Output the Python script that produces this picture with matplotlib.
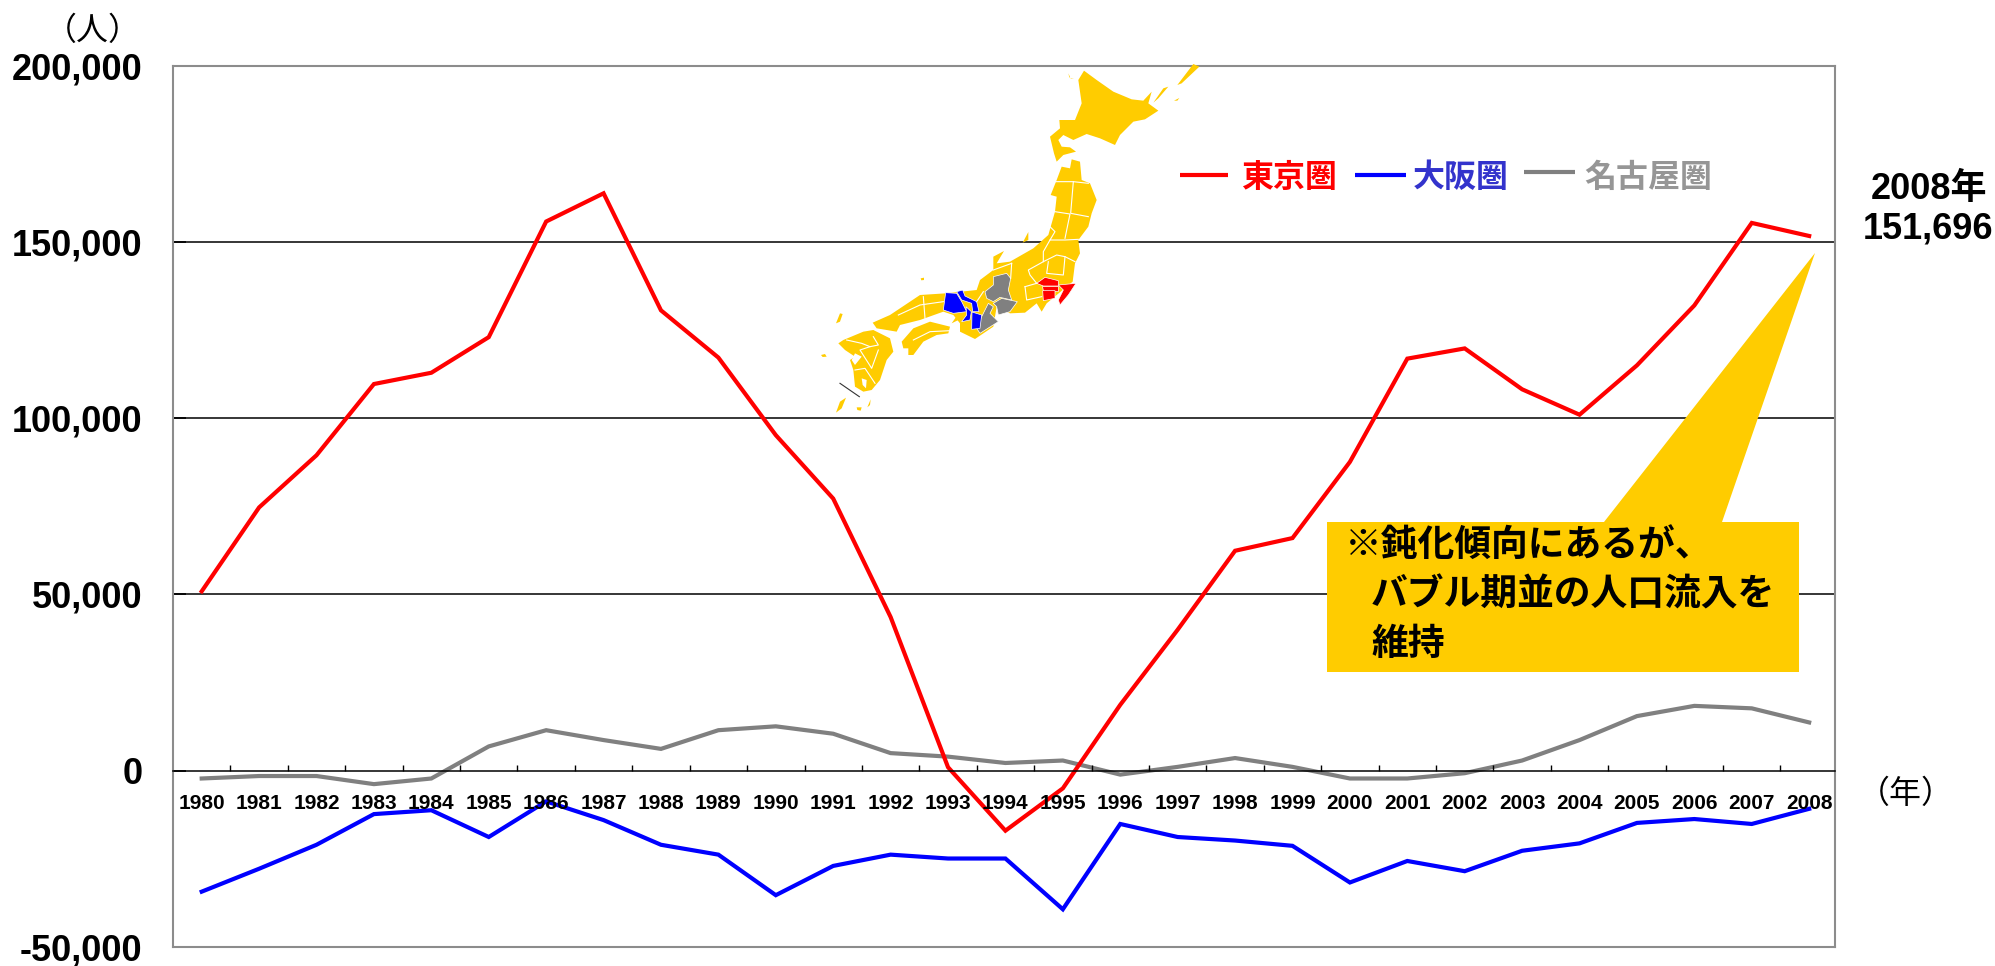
import matplotlib
matplotlib.use('Agg')
import matplotlib.pyplot as plt
from matplotlib.patches import Polygon

plt.rcParams['font.family'] = ['Liberation Sans', 'Noto Sans CJK JP', 'DejaVu Sans']

years = list(range(1980, 2009))
tokyo = [50900, 74700, 89500, 109700, 112900, 123000, 155800, 163800, 130600, 117200,
         95200, 77200, 43600, 1000, -17000, -5000, 18700, 40000, 62400, 66000,
         87600, 116900, 119800, 108200, 101000, 115000, 132000, 155400, 151696]
osaka = [-34300, -27800, -21000, -12300, -11200, -18800, -8700, -14000, -21000, -23800,
         -35300, -27000, -23800, -24900, -24900, -39300, -15100, -18800, -19800, -21300,
         -31700, -25600, -28500, -22700, -20600, -14800, -13700, -15100, -10800]
nagoya = [-2200, -1500, -1500, -3800, -2200, 6900, 11500, 8700, 6200, 11500,
          12600, 10500, 5000, 4000, 2200, 2900, -1100, 1100, 3600, 1100,
          -2200, -2200, -700, 2900, 8700, 15500, 18400, 17700, 13700]
y_ticks = [-50000, 0, 50000, 100000, 150000, 200000]

YELLOW = '#FFCC00'
GRAY = '#808080'

W, H = 1995, 966
fig = plt.figure(figsize=(W / 100, H / 100), dpi=100)
left, right, top, bottom = 173, 1835, 65.7, 947
ax = fig.add_axes([left / W, 1 - bottom / H, (right - left) / W, (bottom - top) / H])

ax.plot(years, nagoya, color=GRAY, lw=3, solid_joinstyle='miter', zorder=3)
ax.plot(years, osaka, color='#0000FF', lw=3, solid_joinstyle='miter', zorder=3)
ax.plot(years, tokyo, color='#FF0000', lw=3, solid_joinstyle='miter', zorder=3)

ax.set_xlim(1979.5, 2008.45)
ax.set_ylim(-50000, 200000)
ax.set_xticks([])
ax.set_yticks(y_ticks)
ax.set_yticklabels([f'{v:,}' for v in y_ticks], fontsize=26, fontweight='bold')
ax.tick_params(axis='y', direction='in', length=9, width=1.2, pad=22)
for v in [50000, 100000, 150000]:
    ax.axhline(v, color='black', lw=1.1, zorder=1)
for s in ax.spines.values():
    s.set_color('#8c8c8c')
    s.set_linewidth(1.5)

# year labels hang off the zero line
sec = ax.secondary_xaxis(0.2)
sec.set_xticks(years)
sec.set_xticklabels([str(y) for y in years], fontsize=15, fontweight='bold')
sec.set_xticks([y + 0.5 for y in years[:-1]], minor=True)
sec.tick_params(axis='x', which='major', length=0, pad=17)
sec.tick_params(axis='x', which='minor', direction='in', length=4.5, width=1)
sec.spines['bottom'].set_color('black')
sec.spines['bottom'].set_linewidth(1.1)
sec.set_zorder(4)

# overlay in reference pixels for map, callout and free text
ov = fig.add_axes([0, 0, 1, 1], zorder=5)
ov.set_xlim(0, W)
ov.set_ylim(H, 0)
ov.axis('off')


def zm(points):
    return [(780 + x / 3, 40 + y / 3) for x, y in points]


map_yellow = [
    [(912, 92), (950, 120), (1000, 155), (1055, 178), (1090, 182), (1115, 155), (1105, 190), (1135, 212),
     (1095, 238), (1060, 245), (1020, 285), (1005, 315), (960, 295), (920, 282), (880, 300), (870, 295),
     (850, 285), (835, 300), (845, 320), (870, 322), (888, 335), (850, 345), (830, 365), (822, 340),
     (810, 290), (840, 265), (838, 240), (885, 240), (905, 190), (895, 120)],
    [(845, 380), (870, 385), (875, 358), (900, 365), (905, 420), (930, 430), (950, 480), (935, 520),
     (925, 560), (895, 600), (900, 640), (885, 670), (878, 725), (800, 790), (785, 815), (770, 790),
     (735, 818), (690, 820), (650, 800), (640, 860), (585, 897), (540, 875), (540, 850), (520, 825),
     (490, 815), (420, 840), (360, 855), (350, 875), (290, 865), (278, 848), (330, 825), (420, 765),
     (497, 760), (590, 750), (600, 720), (640, 690), (640, 650), (672, 633), (650, 670), (690, 665),
     (760, 625), (805, 585), (825, 515), (830, 470), (812, 465), (830, 420)],
    [(365, 905), (400, 865), (450, 845), (510, 860), (505, 880), (470, 885), (430, 905), (400, 945),
     (385, 945), (385, 925), (370, 925)],
    [(190, 900), (250, 875), (280, 870), (330, 895), (340, 935), (320, 960), (300, 1020), (275, 1050),
     (250, 1055), (225, 1040), (220, 990), (210, 960), (225, 950), (195, 930), (175, 910)],
    [(168, 1118), (180, 1085), (198, 1073), (185, 1105)],
    [(230, 1102), (245, 1102), (242, 1112), (232, 1110)],
    [(262, 1102), (272, 1078), (270, 1095)],
    [(728, 608), (745, 576), (745, 600)],
    [(422, 715), (432, 713), (432, 720), (424, 721)],
    [(168, 850), (180, 820), (188, 822), (180, 845)],
    [(123, 945), (135, 942), (140, 950), (128, 951)],
    [(1120, 188), (1150, 145), (1165, 140), (1135, 175)],
    [(1192, 135), (1240, 72), (1258, 80), (1205, 130)],
    [(1182, 182), (1198, 174), (1192, 182)],
    [(865, 100), (872, 115), (882, 117), (868, 112)],
    [(515, 850), (530, 828), (535, 840)],
]
map_bays = [
    [(225, 940), (245, 950), (225, 975), (215, 960)],
    [(245, 1015), (260, 1020), (258, 1045), (248, 1035)],
]
map_gray = [
    [(615, 755), (640, 735), (640, 710), (680, 700), (692, 715), (685, 750), (695, 780), (660, 772),
     (640, 785), (620, 775)],
    [(640, 790), (665, 775), (712, 785), (690, 815), (655, 825), (650, 800)],
    [(625, 790), (640, 800), (630, 820), (655, 845), (600, 880), (590, 865), (605, 830)],
]
map_blue = [
    [(497, 758), (530, 760), (545, 785), (560, 815), (520, 820), (490, 810)],
    [(530, 755), (548, 750), (555, 768), (590, 785), (597, 815), (578, 815), (575, 790), (545, 780)],
    [(558, 800), (574, 815), (570, 840), (545, 845), (560, 825)],
    [(576, 816), (605, 825), (600, 865), (575, 868)],
]
map_red = [
    [(770, 730), (795, 712), (835, 722), (835, 738), (790, 738)],
    [(785, 738), (835, 738), (835, 752), (790, 752)],
    [(788, 752), (825, 752), (825, 775), (790, 782)],
    [(835, 735), (888, 730), (865, 765), (840, 795), (835, 780), (850, 750)],
]
map_borders = [
    [(825, 425), (880, 425), (925, 430)], [(880, 425), (872, 520), (925, 530)],
    [(825, 515), (870, 522), (855, 595)], [(810, 560), (825, 575), (810, 600), (855, 600), (895, 598)],
    [(810, 600), (790, 635), (790, 665), (745, 690), (750, 705), (770, 730)],
    [(790, 665), (830, 645), (855, 650), (885, 665)], [(805, 665), (800, 700), (850, 705), (855, 650)],
    [(695, 670), (692, 715)], [(640, 690), (695, 670)], [(735, 740), (770, 730)],
    [(735, 740), (740, 780), (785, 770)], [(430, 770), (435, 835)], [(355, 825), (420, 795), (490, 785)],
    [(400, 900), (450, 875), (510, 872)], [(590, 785), (610, 755)],
    [(200, 900), (245, 910), (270, 920), (295, 915), (280, 890)], [(270, 920), (240, 930), (275, 985), (295, 930)],
    [(225, 990), (255, 985), (285, 1030)],
]
for p in map_yellow:
    ov.add_patch(Polygon(zm(p), closed=True, fc=YELLOW, ec='none', zorder=2))
for p in map_bays:
    ov.add_patch(Polygon(zm(p), closed=True, fc='white', ec='none', zorder=2.1))
for polys, col in [(map_gray, GRAY), (map_blue, '#0000FF'), (map_red, '#FF0000')]:
    for p in polys:
        ov.add_patch(Polygon(zm(p), closed=True, fc=col, ec='white', lw=0.5, zorder=2.5))
for b in map_borders:
    ov.plot(*zip(*zm(b)), color='white', lw=0.8, zorder=3)
ov.plot(*zip(*zm([(180, 1030), (238, 1070)])), color='#333333', lw=0.8, zorder=3)

# callout box
ov.add_patch(Polygon([(1327, 522), (1604, 522), (1815, 253), (1722, 522), (1799, 522), (1799, 672), (1327, 672)],
                     closed=True, fc=YELLOW, ec='none', zorder=2))
for tx, ty, s in [(1345, 546, '※鈍化傾向にあるが、'), (1371, 596, 'バブル期並の人口流入を'), (1371, 645, '維持')]:
    ov.text(tx, ty, s, fontsize=26.5, fontweight='bold', color='black', va='center', ha='left', zorder=4)

# legend
for x0, x1, ly, col in [(1180, 1228, 175, '#FF0000'), (1355, 1406, 175, '#0000FF'), (1524, 1575, 172, GRAY)]:
    ov.plot([x0, x1], [ly, ly], color=col, lw=3, zorder=3, solid_capstyle='butt')
for tx, s, col in [(1241, '東京圏', '#FF0000'), (1413, '大阪圏', '#3333CC'), (1584, '名古屋圏', '#969696')]:
    ov.text(tx, 179, s, fontsize=23, fontweight='bold', color=col, va='center', ha='left', zorder=4)

ov.text(1929, 190, '2008年', fontsize=26, fontweight='bold', ha='center', va='center')
ov.text(1928, 229, '151,696', fontsize=26, fontweight='bold', ha='center', va='center')
ov.text(93, 32, '（人）', fontsize=23, ha='center', va='center')
ov.text(1906, 795, '（年）', fontsize=23, ha='center', va='center')

fig.savefig('out.png', dpi=100)
